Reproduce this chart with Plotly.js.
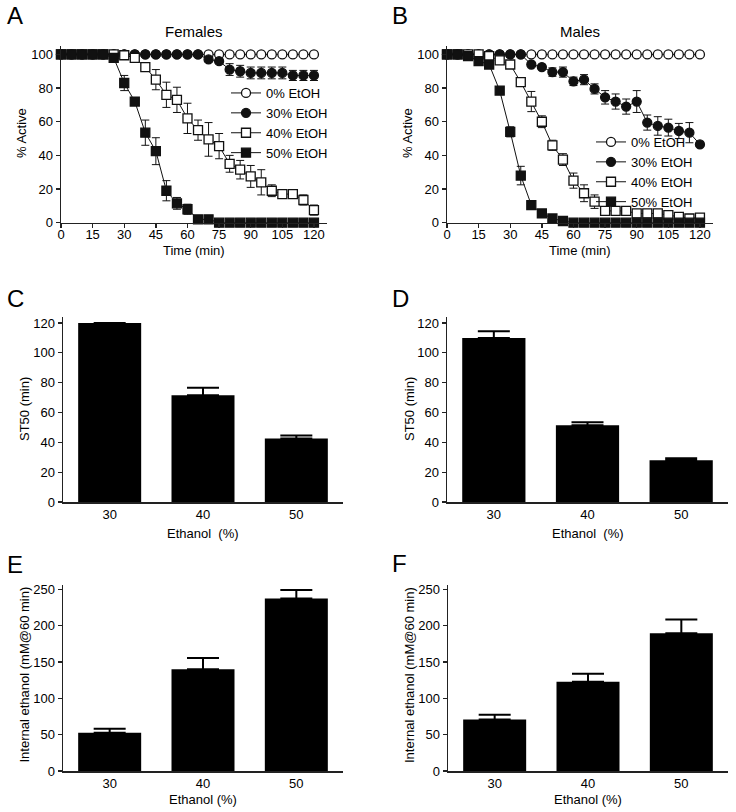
<!DOCTYPE html>
<html>
<head>
<meta charset="utf-8">
<script src="https://cdn.plot.ly/plotly-3.0.1.min.js"></script>
<style>html,body{margin:0;padding:0;background:#fff;}#chart{width:736px;height:812px;}</style>
</head>
<body>
<div id="chart"></div>
<script>
// ---------- Data ----------
const time = [0,5,10,15,20,25,30,35,40,45,50,55,60,65,70,75,80,85,90,95,100,105,110,115,120];
const seriesNames = ['0% EtOH','30% EtOH','40% EtOH','50% EtOH'];

// Panel A – Females (% active)
const fem0  = [100,100,100,100,100,100,100,100,100,100,100,100,100,100,100,100,100,100,100,100,100,100,100,100,100];
const fem30 = [100,100,100,100,100,100,100,100,100,100,100,100,100,100,97,96,91,90,89,89,89,89,87.5,87.5,87.5];
const fem30Err = [0,0,0,0,0,0,0,0,0,0,0,0,0,0,1.5,1.5,3.5,3.5,3.5,3.5,3.5,3.5,3,3,3];
const fem40 = [100,100,100,100,100,100,99.5,98,92.5,85,76,73,62,55,49.5,45.5,35,31.5,27.5,24,19,17,17,13.5,7.5];
const fem40Err = [0,0,0,0,0,0,0.5,1,2,6,7.5,7.5,9,6,10,7.5,5,5.5,6.5,7.5,3.5,2,2,3,3];
const fem50 = [100,100,100,100,100,98,83,72,53.5,42.5,19,11.5,8,2,2,0,0,0,0,0,0,0,0,0,0];
const fem50Err = [0,0,0,0,0,1,4.5,1.5,7.5,8,6,3.5,3,0.5,0.5,0,0,0,0,0,0,0,0,0,0];

// Panel B – Males (% active)
const male0  = [100,100,100,100,100,100,100,100,100,100,100,100,100,100,100,100,100,100,100,100,100,100,100,100,100];
const male30 = [100,100,100,100,100,100,100,100,94,92.5,89.5,89.5,84,85,79.5,74.5,72,69,72,59.5,57.5,56.5,54.5,53.5,46.5];
const male30Err = [0,0,0,0,0,0,0,0,1,1.5,2.5,3,2.5,3,3,4,4.5,4.5,6.5,4.5,5.5,5,4.5,6,1];
const male40 = [100,100,100,100,99,96.5,94,83.5,72,60,46,37.5,25,17.5,12.5,7,7,7,5.5,5.5,5.5,4.5,3.5,2.5,3];
const male40Err = [0,0,0,0,0.5,1,1,1.5,6,3.5,3,3.5,4.5,5,4,2,2,2,2,2,2,1.5,1.5,1,1];
const male50 = [100,100,99,96,94,78.5,54,28,10.5,5.5,2.5,1,0,0,0,0,0,0,0,0,0,0,0,0,0];
const male50Err = [0,0,0.5,1,1,1,3,5.5,1,1,0.5,0.5,0,0,0,0,0,0,0,0,0,0,0,0,0];

// Bar panels
const ethanolCats = ['30','40','50'];
const st50Fem = [120, 71.5, 42.5];
const st50FemErr = [0, 5, 2];
const st50Male = [110, 51.5, 28];
const st50MaleErr = [4.5, 2, 1.3];
const intFem = [52.5, 140, 237.5];
const intFemErr = [5.5, 15.5, 11.5];
const intMale = [71, 123, 189.5];
const intMaleErr = [6.5, 11, 19];

// Text
const panelTitles = ['Females', 'Males'];
const panelLetters = ['A','B','C','D','E','F'];
const timeTitle = 'Time (min)';
const activeTitle = '% Active';
const st50Title = 'ST50 (min)';
const internalTitle = 'Internal ethanol (mM@60 min)';
const ethanolTitleCD = 'Ethanol\u00A0 (%)';
const ethanolTitleEF = 'Ethanol (%)';

// ---------- Styles ----------
const FONT = 'Arial, "Liberation Sans", sans-serif';
const INK = '#111';
const symbols = ['circle','circle','square','square'];
const fills = ['#ffffff', INK, '#ffffff', INK];

function lineTrace(y, err, idx, xa, ya, legendId) {
  return {
    type: 'scatter', mode: 'lines+markers',
    x: time, y: y, name: seriesNames[idx],
    xaxis: xa, yaxis: ya, legend: legendId,
    cliponaxis: false,
    line: {color: INK, width: 1},
    marker: {symbol: symbols[idx], size: 9, color: fills[idx], line: {color: INK, width: 1.3}},
    error_y: {type: 'data', array: err, visible: true, color: INK, thickness: 1, width: 4}
  };
}
const zeros = ethanolCats.map(() => 0);
function barTrace(y, err, xa, ya) {
  return {
    type: 'bar', x: ethanolCats, y: y, xaxis: xa, yaxis: ya, showlegend: false,
    marker: {color: '#000', line: {width: 0}},
    error_y: {type: 'data', symmetric: false, array: err, arrayminus: zeros, visible: true, color: '#000', thickness: 2, width: 16}
  };
}

const zeroErr = time.map(() => 0);
const traces = [
  lineTrace(fem0, zeroErr, 0, 'x', 'y', 'legend'),
  lineTrace(fem30, fem30Err, 1, 'x', 'y', 'legend'),
  lineTrace(fem40, fem40Err, 2, 'x', 'y', 'legend'),
  lineTrace(fem50, fem50Err, 3, 'x', 'y', 'legend'),
  lineTrace(male0, zeroErr, 0, 'x2', 'y2', 'legend2'),
  lineTrace(male30, male30Err, 1, 'x2', 'y2', 'legend2'),
  lineTrace(male40, male40Err, 2, 'x2', 'y2', 'legend2'),
  lineTrace(male50, male50Err, 3, 'x2', 'y2', 'legend2'),
  barTrace(st50Fem, st50FemErr, 'x3', 'y3'),
  barTrace(st50Male, st50MaleErr, 'x4', 'y4'),
  barTrace(intFem, intFemErr, 'x5', 'y5'),
  barTrace(intMale, intMaleErr, 'x6', 'y6')
];

const W = 736, H = 812;
const px = v => v / W;
const py = v => 1 - v / H;

function axisBase(extra) {
  return Object.assign({
    showline: true, linecolor: '#222', linewidth: 1.5,
    ticks: 'outside', ticklen: 4, tickwidth: 1.3, tickcolor: '#222',
    showgrid: false, zeroline: false, automargin: false,
    tickfont: {family: FONT, size: 13, color: '#000'}
  }, extra);
}
function label(text, x, y, size, angle) {
  return {text: text, x: px(x), y: py(y), xref: 'paper', yref: 'paper', showarrow: false,
          xanchor: 'center', yanchor: 'middle', textangle: angle || 0,
          font: {family: FONT, size: size, color: '#000'}};
}

const layout = {
  width: W, height: H,
  margin: {l: 0, r: 0, t: 0, b: 0},
  paper_bgcolor: '#fff', plot_bgcolor: 'rgba(0,0,0,0)',
  font: {family: FONT, color: '#000'},
  bargap: 0.325,
  showlegend: true,
  legend: {x: px(226), y: py(78), xanchor: 'left', yanchor: 'top', bgcolor: 'rgba(0,0,0,0)',
           font: {family: FONT, size: 13, color: '#000'}, tracegroupgap: 0},
  legend2: {x: px(591), y: py(127), xanchor: 'left', yanchor: 'top', bgcolor: 'rgba(0,0,0,0)',
           font: {family: FONT, size: 13, color: '#000'}, tracegroupgap: 0},

  xaxis:  axisBase({domain: [px(61), px(326.6)], range: [0, 126], dtick: 15, tick0: 0, anchor: 'y', ticklabelstandoff: -5}),
  yaxis:  axisBase({domain: [py(222.7), py(46)], range: [0, 105], dtick: 20, anchor: 'x'}),
  xaxis2: axisBase({domain: [px(447), px(712.6)], range: [0, 126], dtick: 15, tick0: 0, anchor: 'y2', ticklabelstandoff: -5}),
  yaxis2: axisBase({domain: [py(222.7), py(46)], range: [0, 105], dtick: 20, anchor: 'x2'}),

  xaxis3: axisBase({domain: [px(63), px(343)], type: 'category', range: [-0.5, 2.5], ticks: '', anchor: 'y3'}),
  yaxis3: axisBase({domain: [py(502), py(317)], range: [0, 124], dtick: 20, anchor: 'x3'}),
  xaxis4: axisBase({domain: [px(447), px(728)], type: 'category', range: [-0.5, 2.5], ticks: '', anchor: 'y4'}),
  yaxis4: axisBase({domain: [py(502), py(317)], range: [0, 124], dtick: 20, anchor: 'x4'}),

  xaxis5: axisBase({domain: [px(63), px(343)], type: 'category', range: [-0.5, 2.5], ticks: '', anchor: 'y5'}),
  yaxis5: axisBase({domain: [py(771), py(585)], range: [0, 256], dtick: 50, anchor: 'x5'}),
  xaxis6: axisBase({domain: [px(448), px(728)], type: 'category', range: [-0.5, 2.5], ticks: '', anchor: 'y6'}),
  yaxis6: axisBase({domain: [py(771), py(585)], range: [0, 256], dtick: 50, anchor: 'x6'}),

  annotations: [
    label(panelTitles[0], 193.8, 32, 15),
    label(panelTitles[1], 579.8, 32, 15),
    label(panelLetters[0], 15, 16, 24),
    label(panelLetters[1], 400, 16, 24),
    label(panelLetters[2], 15, 298, 24),
    label(panelLetters[3], 400, 298, 24),
    label(panelLetters[4], 15, 564, 24),
    label(panelLetters[5], 399, 563, 24),
    // axis titles
    label(timeTitle, 193.8, 250, 13),
    label(timeTitle, 579.8, 250, 13),
    label(activeTitle, 22, 133, 13, -90),
    label(activeTitle, 408, 133, 13, -90),
    label(ethanolTitleCD, 203, 533, 13),
    label(ethanolTitleCD, 587.5, 533, 13),
    label(st50Title, 24, 409, 13, -90),
    label(st50Title, 409, 409, 13, -90),
    label(ethanolTitleEF, 203, 799, 13),
    label(ethanolTitleEF, 588, 799, 13),
    label(internalTitle, 23.5, 675, 13, -90),
    label(internalTitle, 409, 675, 13, -90)
  ]
};

Plotly.newPlot('chart', traces, layout, {staticPlot: true, displayModeBar: false});
</script>
</body>
</html>
